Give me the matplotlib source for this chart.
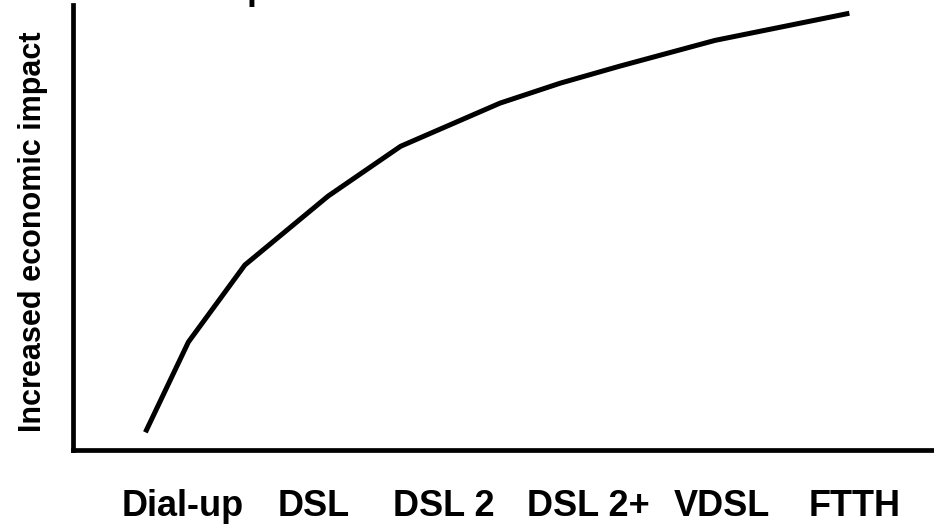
import matplotlib
matplotlib.use('Agg')
import matplotlib.pyplot as plt

# broadband technologies along the bottom, one tick each
technologies = ['Dial-up', 'DSL', 'DSL 2', 'DSL 2+', 'VDSL', 'FTTH']
tech_positions = [1, 1.97, 2.94, 4.02, 5.01, 6.0]

# impact curve (arbitrary units, 0-100)
curve_x = [0.72, 1.04, 1.46, 2.08, 2.62, 3.36, 3.81, 4.25, 4.96, 5.96]
curve_y = [4.0, 24.3, 41.6, 57.1, 68.3, 78.0, 82.5, 86.3, 92.1, 98.2]

plt.rcParams['font.family'] = ['Liberation Sans', 'DejaVu Sans']

fig = plt.figure(figsize=(9.34, 5.24), dpi=100)
ax = fig.add_axes([0.078, 0.141, 0.922, 0.849])

ax.plot(curve_x, curve_y, color='black', linewidth=3.6, solid_capstyle='butt')

ax.set_xlim(0.18, 6.59)
ax.set_ylim(0, 100)

for side in ['top', 'right']:
    ax.spines[side].set_visible(False)
for side in ['left', 'bottom']:
    ax.spines[side].set_linewidth(3.4)
    ax.spines[side].set_color('black')

ax.set_yticks([])
ax.set_xticks(tech_positions)
ax.set_xticklabels(technologies, fontsize=26, fontweight='bold')
ax.tick_params(axis='x', length=0, pad=28)

ax.set_ylabel('Increased economic impact', fontsize=22, fontweight='bold')
ax.yaxis.set_label_coords(-0.029, 0.49)

# bottom of a heading that sits above the canvas
fig.text(247 / 934, 1 + 1 / 524, 'p', fontsize=26, fontweight='bold',
         ha='left', va='baseline')

fig.savefig('out.png', dpi=100)
